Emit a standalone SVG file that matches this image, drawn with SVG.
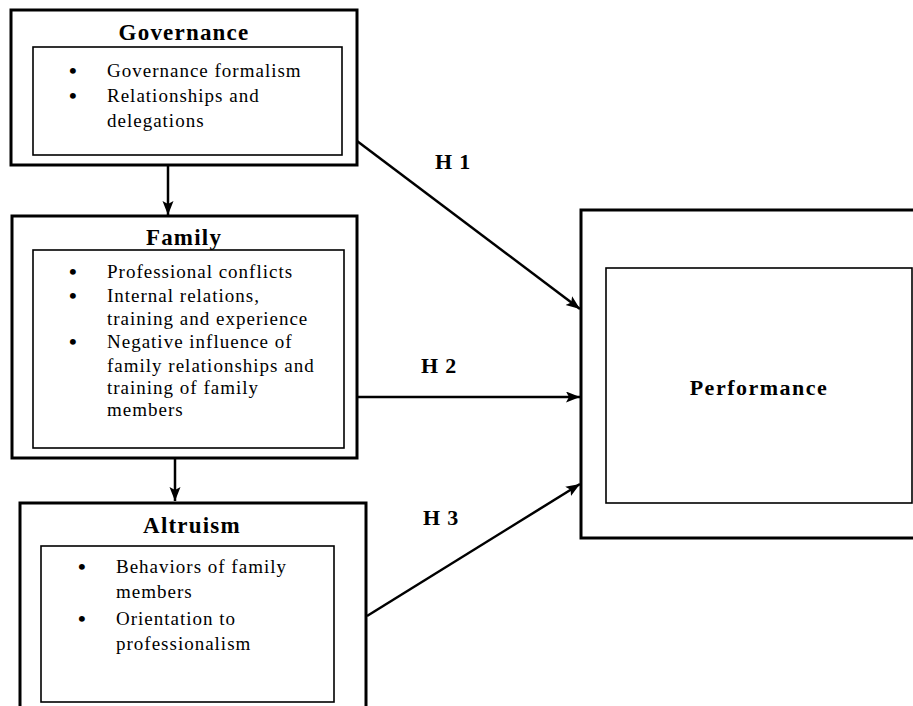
<svg xmlns="http://www.w3.org/2000/svg" width="913" height="706" viewBox="0 0 913 706">
<style>
.outer{fill:none;stroke:#000;stroke-width:3}
.inner{fill:none;stroke:#000;stroke-width:1.6}
.title{font-family:"Liberation Serif",serif;font-weight:bold;font-size:23px;text-anchor:middle;letter-spacing:1.2px}
.item{font-family:"Liberation Serif",serif;font-size:19px;letter-spacing:1px}
.bul{font-family:"Liberation Serif",serif;font-size:22px;font-weight:bold}
.hl{font-family:"Liberation Serif",serif;font-weight:bold;font-size:22px;letter-spacing:0.8px}
.conn{fill:none;stroke:#000;stroke-width:2.5;marker-end:url(#ah)}
</style>
<defs>
<marker id="ah" markerUnits="userSpaceOnUse" markerWidth="16" markerHeight="12" refX="14" refY="5.5" orient="auto">
<path d="M0,0 L14,5.5 L0,11 L3,5.5 Z" fill="#000"/>
</marker>
</defs>
<rect width="913" height="706" fill="#fff"/>
<g id="governance">
<rect class="outer" x="11" y="10" width="346" height="155"/>
<rect class="inner" x="33" y="47" width="309" height="108"/>
<text class="title" x="184" y="40">Governance</text>
<text class="bul" x="69" y="78">•</text><text class="item" x="107" y="77">Governance formalism</text>
<text class="bul" x="69" y="103">•</text><text class="item" x="107" y="102">Relationships and</text>
<text class="item" x="107" y="127">delegations</text>
</g>
<g id="family">
<rect class="outer" x="12" y="216" width="345" height="242"/>
<rect class="inner" x="33" y="250" width="311" height="198"/>
<text class="title" x="184" y="245">Family</text>
<text class="bul" x="69" y="279">•</text><text class="item" x="107" y="278">Professional conflicts</text>
<text class="bul" x="69" y="303">•</text><text class="item" x="107" y="302">Internal relations,</text>
<text class="item" x="107" y="325">training and experience</text>
<text class="bul" x="69" y="349">•</text><text class="item" x="107" y="348">Negative influence of</text>
<text class="item" x="107" y="372">family relationships and</text>
<text class="item" x="107" y="394">training of family</text>
<text class="item" x="107" y="416">members</text>
</g>
<g id="altruism">
<rect class="outer" x="20" y="503" width="346" height="220"/>
<rect class="inner" x="41" y="546" width="293" height="156"/>
<text class="title" x="192" y="533">Altruism</text>
<text class="bul" x="78" y="574">•</text><text class="item" x="116" y="573">Behaviors of family</text>
<text class="item" x="116" y="598">members</text>
<text class="bul" x="78" y="626">•</text><text class="item" x="116" y="625">Orientation to</text>
<text class="item" x="116" y="650">professionalism</text>
</g>
<g id="performance">
<rect class="outer" x="581" y="210" width="345" height="328"/>
<rect class="inner" x="606" y="268" width="306" height="235"/>
<text class="title" x="759" y="395" style="font-size:22px;letter-spacing:1.5px">Performance</text>
</g>
<g id="connectors">
<line class="conn" x1="168" y1="165" x2="168" y2="215"/>
<line class="conn" x1="175" y1="458" x2="175" y2="501"/>
<line class="conn" x1="357" y1="141" x2="580" y2="309"/>
<line class="conn" x1="357" y1="397" x2="580" y2="397"/>
<line class="conn" x1="367" y1="616" x2="580" y2="484"/>
<text class="hl" x="435" y="169">H 1</text>
<text class="hl" x="421" y="373">H 2</text>
<text class="hl" x="423" y="525">H 3</text>
</g>
</svg>
